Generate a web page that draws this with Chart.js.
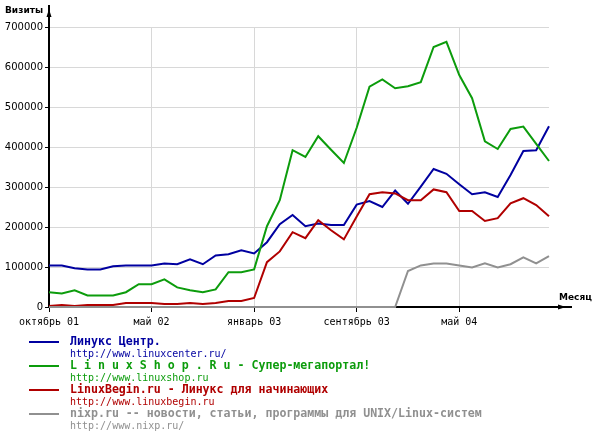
<!DOCTYPE html>
<html>
<head>
<meta charset="utf-8">
<script src="https://cdn.jsdelivr.net/npm/chart.js@4/dist/chart.umd.min.js"></script>
<style>
html,body{margin:0;padding:0;background:#fff;}
#c{display:block;}
</style>
</head>
<body>
<canvas id="c" width="594" height="437"></canvas>
<script>
// ---- data (40 periods, ~30 days each, starting Oct 2001) ----
const tickPositions = [0, 8, 16, 24, 32];
const tickLabels = ['октябрь 01', 'май 02', 'январь 03', 'сентябрь 03', 'май 04'];

const linuxCenter = [104000, 104000, 97000, 94000, 94000, 102000, 104000, 104000, 104000, 109000,
  107000, 119000, 107000, 129000, 132000, 142000, 134000, 162000, 207000, 230000,
  202000, 209000, 205000, 205000, 256000, 265000, 250000, 291000, 258000, 301000,
  345000, 333000, 307000, 282000, 287000, 275000, 330000, 390000, 392000, 452000];

const linuxShop = [37000, 34000, 42000, 29000, 29000, 29000, 37000, 57000, 57000, 69000,
  49000, 42000, 37000, 44000, 87000, 87000, 94000, 202000, 267000, 392000,
  375000, 427000, 393000, 360000, 448000, 551000, 569000, 547000, 552000, 562000,
  650000, 663000, 580000, 522000, 414000, 395000, 445000, 451000, 408000, 365000];

const linuxBegin = [2500, 5000, 2500, 5000, 5000, 5000, 10000, 10000, 10000, 7500,
  7500, 10000, 7500, 10000, 15000, 15000, 22500, 112000, 139000, 187000,
  172000, 217000, 192000, 169000, 226000, 282000, 287000, 284000, 267000, 267000,
  294000, 287000, 240000, 240000, 215000, 222000, 259000, 272000, 255000, 227000];

const nixp = [0, 0, 0, 0, 0, 0, 0, 0, 0, 0,
  0, 0, 0, 0, 0, 0, 0, 0, 0, 0,
  0, 0, 0, 0, 0, 0, 0, 0, 90000, 104000,
  109000, 109000, 104000, 99000, 109000, 99000, 107000, 124000, 109000, 127000];

const seriesNames = [
  'Линукс Центр.',
  'L i n u x S h o p . R u - Супер-мегапортал!',
  'LinuxBegin.ru - Линукс для начинающих',
  'nixp.ru -- новости, статьи, программы для UNIX/Linux-систем'
];
const seriesUrls = [
  'http://www.linuxcenter.ru/',
  'http://www.linuxshop.ru',
  'http://www.linuxbegin.ru',
  'http://www.nixp.ru/'
];
const seriesColors = ['#0000a0', '#0c9c0c', '#b00000', '#909090'];
const yAxisTitle = 'Визиты';
const xAxisTitle = 'Месяц';

const allSeries = [linuxCenter, linuxShop, linuxBegin, nixp];

const extras = {
  id: 'extras',
  afterDraw(chart) {
    const ctx = chart.ctx;
    const a = chart.chartArea;
    ctx.save();
    // axis extensions with arrows
    ctx.strokeStyle = '#000';
    ctx.fillStyle = '#000';
    ctx.lineWidth = 2;
    ctx.beginPath();
    ctx.moveTo(a.left, a.top);
    ctx.lineTo(a.left, 5);
    ctx.stroke();
    ctx.beginPath();
    ctx.moveTo(a.left - 2.5, 17);
    ctx.lineTo(a.left + 2.5, 17);
    ctx.lineTo(a.left, 9);
    ctx.closePath();
    ctx.fill();
    ctx.beginPath();
    ctx.moveTo(a.right, a.bottom);
    ctx.lineTo(572, a.bottom);
    ctx.stroke();
    ctx.beginPath();
    ctx.moveTo(558, a.bottom - 2.5);
    ctx.lineTo(558, a.bottom + 2.5);
    ctx.lineTo(566, a.bottom);
    ctx.closePath();
    ctx.fill();
    // axis titles
    ctx.font = 'bold 9px "DejaVu Sans"';
    ctx.textBaseline = 'middle';
    ctx.textAlign = 'left';
    ctx.fillText(yAxisTitle, 5, 11);
    ctx.fillText(xAxisTitle, 559, 298);
    // legend
    for (let i = 0; i < seriesNames.length; i++) {
      const y = 342 + i * 24;
      ctx.strokeStyle = seriesColors[i];
      ctx.fillStyle = seriesColors[i];
      ctx.lineWidth = 2;
      ctx.beginPath();
      ctx.moveTo(29, y);
      ctx.lineTo(59, y);
      ctx.stroke();
      ctx.font = 'bold 11.6px "DejaVu Sans Mono"';
      ctx.fillText(seriesNames[i], 70, y);
      ctx.font = '10px "DejaVu Sans Mono"';
      ctx.fillText(seriesUrls[i], 70, y + 12);
    }
    ctx.restore();
  }
};

new Chart(document.getElementById('c'), {
  type: 'line',
  data: {
    datasets: allSeries.map((s, i) => ({
      label: seriesNames[i],
      data: s.map((v, k) => ({x: k, y: v})),
      borderColor: seriesColors[i],
      backgroundColor: seriesColors[i],
      borderWidth: 2,
      pointRadius: 0,
      tension: 0,
      fill: false,
      clip: 4
    })).reverse()
  },
  options: {
    responsive: false,
    animation: false,
    devicePixelRatio: 1,
    layout: {padding: {left: 0, top: 27, right: 45, bottom: 0}},
    plugins: {legend: {display: false}, tooltip: {enabled: false}},
    scales: {
      x: {
        type: 'linear',
        min: 0,
        max: linuxCenter.length - 1,
        afterBuildTicks: (s) => { s.ticks = tickPositions.map(v => ({value: v})); },
        afterFit: (s) => { s.height = 130; },
        ticks: {
          autoSkip: false,
          maxRotation: 0,
          padding: 4,
          color: '#000',
          font: {family: '"DejaVu Sans Mono"', size: 10},
          callback: (v) => tickLabels[tickPositions.indexOf(v)]
        },
        grid: {
          color: (c) => (c.tick && c.tick.value === 0) ? 'rgba(0,0,0,0)' : '#d8d8d8',
          tickColor: '#000',
          tickLength: 5,
          lineWidth: 1
        },
        border: {display: true, color: '#000', width: 2}
      },
      y: {
        min: 0,
        max: 700000,
        afterFit: (s) => { s.width = 49; },
        ticks: {
          stepSize: 100000,
          padding: 2,
          color: '#000',
          font: {family: '"DejaVu Sans"', size: 10},
          callback: (v) => String(v)
        },
        grid: {
          color: '#d8d8d8',
          tickColor: '#000',
          tickLength: 4,
          lineWidth: 1
        },
        border: {display: true, color: '#000', width: 2}
      }
    }
  },
  plugins: [extras]
});
</script>
</body>
</html>
